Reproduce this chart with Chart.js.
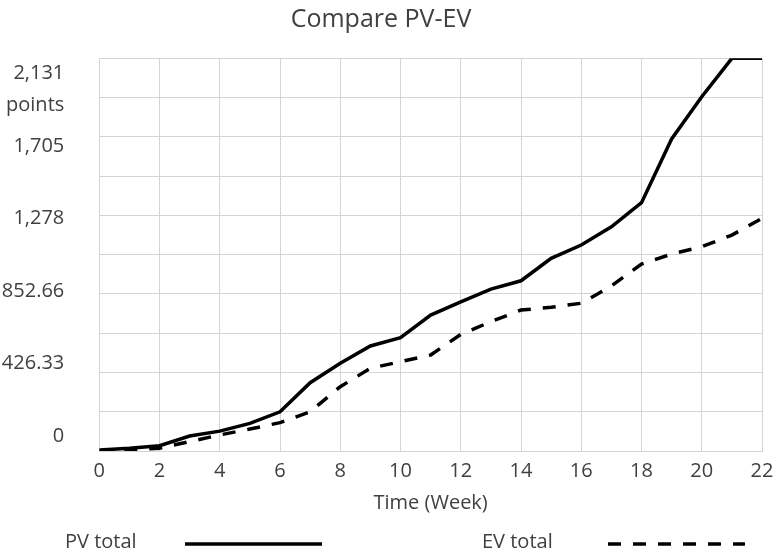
<!DOCTYPE html>
<html>
<head>
<meta charset="utf-8">
<script src="https://cdn.jsdelivr.net/npm/chart.js@4"></script>
<style>
  html, body { margin: 0; padding: 0; background: #fff; }
  #wrap { width: 773px; height: 553px; }
</style>
</head>
<body>
<div id="wrap"><canvas id="pvChart" width="773" height="553"></canvas></div>
<script>
// Weeks on the x axis
const weeks = [0, 1, 2, 3, 4, 5, 6, 7, 8, 9, 10, 11, 12, 13, 14, 15, 16, 17, 18, 19, 20, 21, 22];

// Planned value and earned value (points)
const pvTotal = [5, 15, 29, 81, 108, 150, 213, 371, 476, 570, 615, 738, 810, 879, 924, 1046, 1118, 1217, 1348, 1694, 1923, 2131.65, 2131.65];
const evTotal = [0, 5, 15, 51, 87, 119, 154, 213, 349, 449, 485, 521, 633, 702, 765, 780, 802, 896, 1015, 1069, 1109, 1172, 1263];

// Y axis labels (the unit "points" sits between the top two)
const yTickValues = [0, 426.33, 852.66, 1278.99, 1705.32, 1945, 2131.65];
const yTickLabels = ['0', '426.33', '852.66', '1,278', '1,705', 'points', '2,131'];

const yMax = 2131.65;
const textColor = '#404040';
const gridColor = '#d4d4d4';

// Legend drawn below the axis title: text first, then the line sample
const bottomLegend = {
    id: 'bottomLegend',
    afterDraw(chart) {
        const ctx = chart.ctx;
        const items = [
            { ds: chart.data.datasets[0], textX: 65, lineFrom: 185, lineTo: 322 },
            { ds: chart.data.datasets[1], textX: 482, lineFrom: 608, lineTo: 745 }
        ];
        ctx.save();
        ctx.font = '20px "Open Sans"';
        ctx.fillStyle = textColor;
        ctx.textBaseline = 'middle';
        items.forEach(it => {
            ctx.fillText(it.ds.label, it.textX, 542);
            ctx.beginPath();
            ctx.strokeStyle = it.ds.borderColor;
            ctx.lineWidth = it.ds.borderWidth;
            ctx.setLineDash(it.ds.borderDash || []);
            ctx.moveTo(it.lineFrom, 544);
            ctx.lineTo(it.lineTo, 544);
            ctx.stroke();
        });
        ctx.restore();
    }
};

const ctx = document.getElementById('pvChart').getContext('2d');
const chart = new Chart(ctx, {
    type: 'line',
    data: {
        datasets: [
            {
                label: 'PV total',
                data: weeks.map((w, i) => ({ x: w, y: pvTotal[i] })),
                borderColor: '#000',
                borderWidth: 3.5,
                pointRadius: 0,
                tension: 0,
                yAxisID: 'y'
            },
            {
                label: 'EV total',
                data: weeks.map((w, i) => ({ x: w, y: evTotal[i] })),
                borderColor: '#000',
                borderWidth: 3.5,
                borderDash: [13, 12],
                pointRadius: 0,
                tension: 0,
                yAxisID: 'y'
            }
        ]
    },
    options: {
        responsive: false,
        animation: false,
        layout: { padding: { left: 0, right: 11, top: 0, bottom: 38 } },
        plugins: {
            legend: { display: false },
            tooltip: { enabled: false },
            title: {
                display: true,
                text: 'Compare PV-EV',
                color: textColor,
                font: { family: '"Open Sans"', size: 25, weight: 'normal' },
                padding: { top: 5, bottom: 23.3 }
            }
        },
        scales: {
            x: {
                type: 'linear',
                min: 0,
                max: 22,
                // fixed axis height; let the last label hang into the right padding
                afterFit: s => { s.height = 64; s.paddingRight = 0; s.paddingLeft = 0; },
                ticks: {
                    stepSize: 2,
                    color: textColor,
                    padding: 8,
                    font: { family: '"Open Sans"', size: 20 }
                },
                grid: { color: gridColor, drawTicks: false },
                border: { color: gridColor },
                title: {
                    display: true,
                    text: 'Time (Week)',
                    color: textColor,
                    font: { family: '"Open Sans"', size: 20 },
                    padding: { top: 0, bottom: 0 }
                }
            },
            y: {
                position: 'left',
                min: 0,
                max: yMax,
                afterFit: s => { s.width = 0; },
                ticks: { display: false, stepSize: yMax / 10 },
                grid: { color: gridColor, drawTicks: false },
                border: { color: gridColor }
            },
            yl: {
                position: 'left',
                min: -88.2,
                max: 2219.8,
                afterFit: s => { s.width = 99.3; },
                afterBuildTicks: s => { s.ticks = yTickValues.map(v => ({ value: v })); },
                ticks: {
                    color: textColor,
                    padding: 27,
                    font: { family: '"Open Sans"', size: 20 },
                    callback: (v) => yTickLabels[yTickValues.indexOf(v)]
                },
                grid: { display: false },
                border: { display: false }
            }
        }
    },
    plugins: [bottomLegend]
});
</script>
</body>
</html>
